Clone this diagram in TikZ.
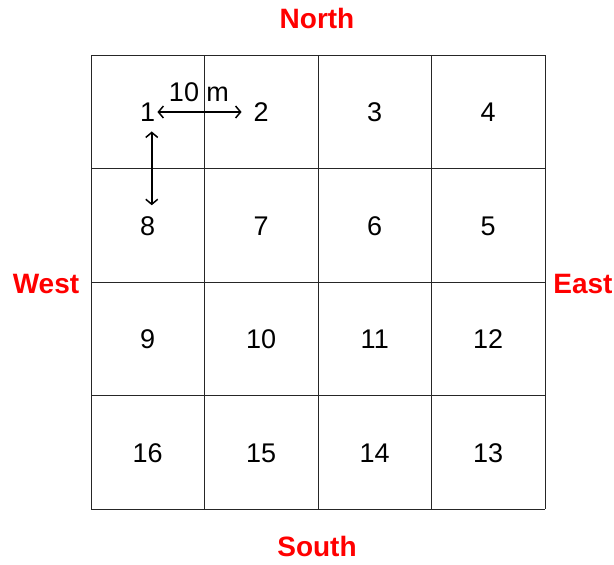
\documentclass[tikz,border=0pt]{standalone}
\usepackage{fontspec}
\setmainfont{Liberation Sans}
\usetikzlibrary{arrows.meta}
\begin{document}
\begin{tikzpicture}[x=1pt,y=-1pt,
  cellnum/.style={inner sep=0pt,font=\fontsize{27}{31}\selectfont},
  dirlabel/.style={inner sep=0pt,text=red,font=\fontsize{28}{33}\selectfont\bfseries},
  gridline/.style={line width=0.9pt,draw=black!85},
  dimarrow/.style={line width=1.5pt,{Straight Barb[length=5pt,width=12pt,line width=1.5pt]}-{Straight Barb[length=5pt,width=12pt,line width=1.5pt]}}]
\useasboundingbox (0,0) rectangle (614,565);
% grid
\foreach \i in {0,...,4}{
  \draw[gridline] (91+113.5*\i,55) -- (91+113.5*\i,509);
  \draw[gridline] (91,55+113.5*\i) -- (545,55+113.5*\i);
}
% numbers (serpentine)
\node[cellnum] (n1) at (147.75,112) {1};
\node[cellnum] (n2) at (261.25,112) {2};
\node[cellnum] (n3) at (374.75,112) {3};
\node[cellnum] (n4) at (488.25,112) {4};
\node[cellnum] (n8) at (147.75,226) {8};
\node[cellnum] (n7) at (261.25,226) {7};
\node[cellnum] (n6) at (374.75,226) {6};
\node[cellnum] (n5) at (488.25,226) {5};
\node[cellnum] (n9) at (147.75,339.5) {9};
\node[cellnum] (n10) at (261.25,339.5) {10};
\node[cellnum] (n11) at (374.75,339.5) {11};
\node[cellnum] (n12) at (488.25,339.5) {12};
\node[cellnum] (n16) at (147.75,453) {16};
\node[cellnum] (n15) at (261.25,453) {15};
\node[cellnum] (n14) at (374.75,453) {14};
\node[cellnum] (n13) at (488.25,453) {13};
% dimension arrows
\draw[dimarrow] ([xshift=2pt]n1.east) -- ([xshift=-12pt]n2.west);
\draw[dimarrow] ([xshift=4pt,yshift=-10pt]n1.south) -- ([xshift=4pt,yshift=11pt]n8.north);
\node[cellnum] (dist) at (199,92) {10 m};
% directions
\node[dirlabel] (north) at (317,18) {North};
\node[dirlabel] (south) at (317,546) {South};
\node[dirlabel] (west) at (46,284) {West};
\node[dirlabel] (east) at (583,284) {East};
\end{tikzpicture}
\end{document}
